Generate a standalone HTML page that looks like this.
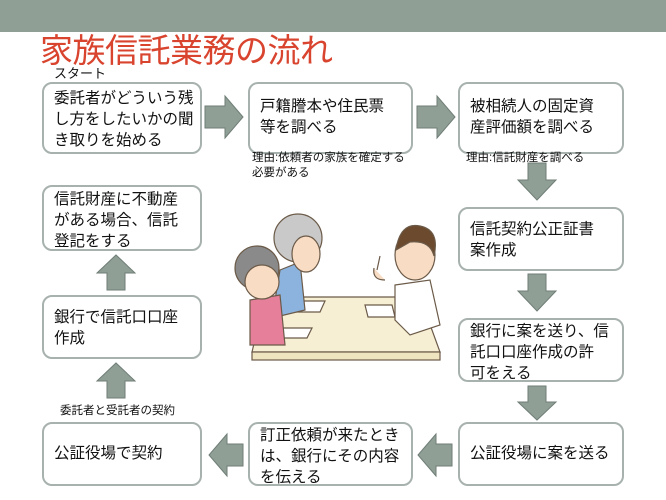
<!DOCTYPE html>
<html><head><meta charset="utf-8"><style>
body{margin:0;width:666px;height:500px;background:#fff;position:relative;overflow:hidden;font-family:"Liberation Sans","Noto Sans CJK JP",sans-serif;}
.bar{position:absolute;left:0;top:0;width:666px;height:32px;background:#8f9f96;}
.t{position:absolute;left:40px;top:24px;font-size:33px;color:#d9442f;white-space:nowrap;letter-spacing:-0.5px}
.b{position:absolute;border:2px solid #a7b1ad;border-radius:10px;background:#fff;box-sizing:border-box;padding:7px 10px;font-size:15.5px;line-height:21px;color:#111;white-space:nowrap}
.s{position:absolute;font-size:11.5px;line-height:15px;color:#111;white-space:nowrap}
svg{position:absolute;left:0;top:0}
</style></head><body>
<div class="bar"></div>
<div class="t">家族信託業務の流れ</div>
<div class="s" style="left:54px;top:66px;font-size:13px">スタート</div>
<div class="b" style="left:42px;top:82px;width:160px;height:72px;padding-top:4px">委託者がどういう残<br>し方をしたいかの聞<br>き取りを始める</div>
<div class="b" style="left:248px;top:82px;width:165px;height:72px;padding-top:12px">戸籍謄本や住民票<br>等を調べる</div>
<div class="b" style="left:458px;top:82px;width:166px;height:72px;padding-top:12px">被相続人の固定資<br>産評価額を調べる</div>
<div class="s" style="left:252px;top:151px">理由:依頼者の家族を確定する<br>必要がある</div>
<div class="s" style="left:466px;top:151px">理由:信託財産を調べる</div>
<div class="b" style="left:458px;top:207px;width:166px;height:64px;padding-top:10px">信託契約公正証書<br>案作成</div>
<div class="b" style="left:458px;top:318px;width:166px;height:64px;padding-top:1px">銀行に案を送り、信<br>託口口座作成の許<br>可をえる</div>
<div class="b" style="left:458px;top:422px;width:166px;height:64px;padding-top:19px">公証役場に案を送る</div>
<div class="b" style="left:248px;top:422px;width:165px;height:64px;padding-top:1px">訂正依頼が来たとき<br>は、銀行にその内容<br>を伝える</div>
<div class="b" style="left:42px;top:422px;width:160px;height:64px;padding-top:19px">公証役場で契約</div>
<div class="s" style="left:60px;top:404px">委託者と受託者の契約</div>
<div class="b" style="left:42px;top:295px;width:160px;height:64px;padding-top:10px">銀行で信託口口座<br>作成</div>
<div class="b" style="left:42px;top:185px;width:160px;height:66px;padding-top:2px">信託財産に不動産<br>がある場合、信託<br>登記をする</div>
<svg width="666" height="500">
<g fill="#8f9f96" stroke="#6f7e76" stroke-width="1">
<polygon points="205,106 225,106 225,96 243,117 225,138 225,128 205,128"/>
<polygon points="417,106 437,106 437,96 455,117 437,138 437,128 417,128"/>
<polygon points="528,163 546,163 546,180 556,180 537,200 518,180 528,180"/>
<polygon points="528,274 546,274 546,291 556,291 537,311 518,291 528,291"/>
<polygon points="528,386 546,386 546,402 556,402 537,420 518,402 528,402"/>
<polygon points="452,444 436,444 436,434 418,455 436,476 436,466 452,466"/>
<polygon points="243,444 227,444 227,434 209,455 227,476 227,466 243,466"/>
<polygon points="107,398 125,398 125,381 135,381 116,363 97,381 107,381"/>
<polygon points="107,290 125,290 125,273 135,273 116,255 97,273 107,273"/>
</g>
<g stroke="#6b5a48" stroke-width="1.2">
<polygon points="265,297 420,297 440,352 252,352" fill="#f6efd4"/>
<rect x="252" y="352" width="188" height="8" fill="#efe4c0"/>
<polygon points="300,301 325,301 320,312 294,312" fill="#fff"/>
<polygon points="365,305 392,305 395,317 368,317" fill="#fff"/>
<polygon points="282,328 312,328 307,338 276,338" fill="#fff"/>
<path d="M280,270 L300,262 L305,310 L272,318 Z" fill="#8bb3dd"/>
<circle cx="298" cy="238" r="24" fill="#c9c9c9"/>
<ellipse cx="306" cy="254" rx="14" ry="18" fill="#f8dcc4"/>
<path d="M250,300 L280,295 L285,345 L250,345 Z" fill="#e57f9a"/>
<circle cx="257" cy="268" r="22" fill="#8a8a8a"/>
<ellipse cx="262" cy="282" rx="17" ry="17" fill="#f8dcc4"/>
<path d="M395,285 L430,280 L440,325 L410,335 L395,320 Z" fill="#fff"/>
<ellipse cx="415" cy="255" rx="20" ry="25" fill="#f8dcc4"/>
<path d="M396,250 Q400,222 420,226 Q440,230 434,256 Q430,240 410,242 Z" fill="#6b4a2e"/>
<path d="M377,270 L380,256 M374,268 Q372,280 385,280" fill="#f8dcc4"/>
</g>
</svg>
</body></html>
